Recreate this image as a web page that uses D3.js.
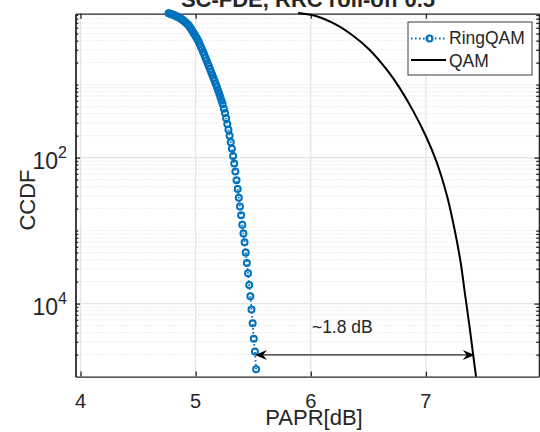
<!DOCTYPE html>
<html>
<head>
<meta charset="utf-8">
<script src="https://cdn.jsdelivr.net/npm/d3@7"></script>
<style>
  body { margin: 0; background: #fff; }
  svg { display: block; }
  text { font-family: "Liberation Sans", Arial, Helvetica, sans-serif; fill: #262626; }
</style>
</head>
<body>
<div id="chart"></div>
<script>
// PAPR thresholds (dB) and CCDF values
var ringX = [4.765, 4.775, 4.785, 4.795, 4.805, 4.815, 4.825, 4.835, 4.845, 4.855,
             4.865, 4.875, 4.885, 4.895, 4.905, 4.915, 4.925, 4.935, 4.945, 4.955,
             4.965, 4.975, 4.985, 4.995, 5.005, 5.015, 5.025, 5.035, 5.045, 5.055,
             5.065, 5.075, 5.085, 5.095, 5.105, 5.115, 5.125, 5.135, 5.145, 5.155,
             5.165, 5.175, 5.185, 5.195, 5.205, 5.215, 5.225, 5.235, 5.245, 5.255,
             5.265, 5.275, 5.285, 5.295, 5.305, 5.315, 5.325, 5.335, 5.345, 5.355,
             5.365, 5.375, 5.385, 5.395, 5.405, 5.415, 5.425, 5.435, 5.445, 5.455,
             5.465, 5.475, 5.485, 5.495, 5.505, 5.515, 5.525];
var ringY = [0.951, 0.940, 0.929, 0.916, 0.904, 0.889, 0.875, 0.859, 0.843, 0.828,
             0.811, 0.792, 0.773, 0.752, 0.730, 0.706, 0.682, 0.658, 0.632, 0.596,
             0.562, 0.531, 0.501, 0.473, 0.445, 0.417, 0.389, 0.359, 0.331, 0.305,
             0.280, 0.257, 0.234, 0.214, 0.195, 0.178, 0.162, 0.148, 0.135, 0.123,
             0.112, 0.101, 0.0918, 0.0832, 0.0750, 0.0676, 0.0603, 0.0537, 0.0468, 0.0407,
             0.0347, 0.0288, 0.0240, 0.0200, 0.0162, 0.0132, 0.0105, 0.00832, 0.00646, 0.00490,
             0.00372, 0.00282, 0.00214, 0.00162, 0.00120, 9.1e-4, 6.9e-4, 5.0e-4, 3.6e-4, 2.6e-4,
             1.8e-4, 1.26e-4, 8.3e-5, 5.4e-5, 3.3e-5, 2.2e-5, 1.26e-5];

var qamX = [5.89, 6.05, 6.22, 6.37, 6.51, 6.66, 6.77, 6.89, 7.00, 7.09, 7.18, 7.24, 7.30, 7.34, 7.38, 7.41, 7.435];
var qamY = [0.957, 0.863, 0.662, 0.463, 0.301, 0.160, 0.0908, 0.0433, 0.0196, 0.00893, 0.00312, 0.00121, 3.8e-4, 1.33e-4, 4.7e-5, 2.0e-5, 1.0e-5];

var seriesNames = ['RingQAM', 'QAM'];

var xTicks = [4, 5, 6, 7];
var xTickLabels = ['4', '5', '6', '7'];
var yTicks = [1e-4, 1e-2];
var yTickExp = ['4', '2'];

var gapArrowX = [5.515, 7.424];
var gapArrowY = 1.98e-5;
var gapLabel = '~1.8 dB';
var gapLabelPos = [6.01, 4.0e-5];

var titleText = 'SC-FDE, RRC roll-off 0.5';

var w = 540, h = 432;
var pLeft = 75.5, pRight = 539, pTop = 13.7, pBottom = 376.6;
var axisColor = '#262626', blue = '#0072BD';

var x = d3.scaleLinear().domain([3.9566, 7.982]).range([pLeft, pRight]);
var y = d3.scaleLog().domain([1e-5, 0.936]).range([pBottom, pTop]);

var svg = d3.select('#chart').append('svg')
    .attr('width', w)
    .attr('height', h);

// minor y positions: 1..9 x each decade, minus the labelled ones
var yMinor = [];
for (var k = -5; k <= 0; k++) {
    for (var m = 1; m <= 9; m++) {
        var v = m * Math.pow(10, k);
        var isMajor = m === 1 && (k === -2 || k === -4);
        if (v > 1.0001e-5 && v < 0.936 && !isMajor) yMinor.push(v);
    }
}

var grid = svg.append('g');
grid.selectAll('.minor')
    .data(yMinor)
    .enter().append('line')
    .attr('x1', pLeft).attr('x2', pRight)
    .attr('y1', function(d){ return y(d); })
    .attr('y2', function(d){ return y(d); })
    .style('stroke', '#d4d4d4')
    .style('stroke-width', 0.8)
    .style('stroke-dasharray', '1,2');
grid.selectAll('.majory')
    .data(yTicks)
    .enter().append('line')
    .attr('x1', pLeft).attr('x2', pRight)
    .attr('y1', function(d){ return y(d); })
    .attr('y2', function(d){ return y(d); })
    .style('stroke', '#e3e3e3')
    .style('stroke-width', 1.2);
grid.selectAll('.majorx')
    .data(xTicks)
    .enter().append('line')
    .attr('y1', pTop).attr('y2', pBottom)
    .attr('x1', function(d){ return x(d); })
    .attr('x2', function(d){ return x(d); })
    .style('stroke', '#e3e3e3')
    .style('stroke-width', 1.2);

// axes with inward ticks on all four sides
function styleAxis(g) {
    g.selectAll('path, line').style('stroke', axisColor).style('stroke-width', 1.3);
    g.selectAll('text').remove();
}
svg.append('g').attr('transform', 'translate(0,' + pBottom + ')')
    .call(d3.axisBottom(x).tickValues(xTicks).tickSizeInner(-5).tickSizeOuter(0)).call(styleAxis);
svg.append('g').attr('transform', 'translate(0,' + pTop + ')')
    .call(d3.axisTop(x).tickValues(xTicks).tickSizeInner(-5).tickSizeOuter(0)).call(styleAxis);
[[d3.axisLeft, pLeft], [d3.axisRight, pRight]].forEach(function(a) {
    svg.append('g').attr('transform', 'translate(' + a[1] + ',0)')
        .call(a[0](y).tickValues(yTicks).tickSizeInner(-4.5).tickSizeOuter(0)).call(styleAxis);
    svg.append('g').attr('transform', 'translate(' + a[1] + ',0)')
        .call(a[0](y).tickValues(yMinor).tickSizeInner(-2.8).tickSizeOuter(0)).call(styleAxis);
});

// tick labels
svg.selectAll('.xlab')
    .data(xTicks)
    .enter().append('text')
    .attr('x', function(d){ return x(d); })
    .attr('y', 408)
    .attr('text-anchor', 'middle')
    .style('font-size', '20px')
    .text(function(d, i){ return xTickLabels[i]; });

var ylab = svg.selectAll('.ylab')
    .data(yTicks)
    .enter().append('text')
    .attr('x', pLeft - 8.5)
    .attr('y', function(d){ return y(d) + 11.8; })
    .attr('text-anchor', 'end');
ylab.append('tspan').style('font-size', '23px').text('10');
ylab.append('tspan').attr('dy', -11.5).style('font-size', '16px')
    .text(function(d, i){ return yTickExp[i]; });

// axis labels and title
svg.append('text')
    .attr('x', 314).attr('y', 425)
    .attr('text-anchor', 'middle')
    .style('font-size', '22px')
    .text('PAPR[dB]');
svg.append('text')
    .attr('transform', 'translate(35,200) rotate(-90)')
    .attr('text-anchor', 'middle')
    .style('font-size', '22px')
    .text('CCDF');
svg.append('text')
    .attr('x', 308).attr('y', 7)
    .attr('text-anchor', 'middle')
    .style('font-size', '22px')
    .style('font-weight', 'bold')
    .text(titleText);

// series
var ringData = ringX.map(function(d, i){ return [d, ringY[i]]; });
var qamData = qamX.map(function(d, i){ return [d, qamY[i]]; });

var line = d3.line()
    .x(function(d){ return x(d[0]); })
    .y(function(d){ return y(d[1]); });

svg.append('path')
    .datum(qamData)
    .attr('d', line.curve(d3.curveCatmullRom.alpha(0.5)))
    .style('fill', 'none')
    .style('stroke', '#000')
    .style('stroke-width', 2);

svg.append('path')
    .datum(ringData)
    .attr('d', line.curve(d3.curveLinear))
    .style('fill', 'none')
    .style('stroke', blue)
    .style('stroke-width', 1.8)
    .style('stroke-dasharray', '1.6,2.4');

svg.selectAll('.mk')
    .data(ringData)
    .enter().append('circle')
    .attr('cx', function(d){ return x(d[0]); })
    .attr('cy', function(d){ return y(d[1]); })
    .attr('r', 3)
    .style('fill', 'none')
    .style('stroke', blue)
    .style('stroke-width', 2);

// double arrow showing the PAPR gap
var ax1 = x(gapArrowX[0]), ax2 = x(gapArrowX[1]), ay = y(gapArrowY);
svg.append('line')
    .attr('x1', ax1 + 4).attr('x2', ax2 - 4)
    .attr('y1', ay).attr('y2', ay)
    .style('stroke', '#222')
    .style('stroke-width', 1.2);
function head(tx, dir) {
    return 'M' + tx + ',' + ay +
        'L' + (tx - dir * 12) + ',' + (ay - 5) +
        'L' + (tx - dir * 8) + ',' + ay +
        'L' + (tx - dir * 12) + ',' + (ay + 5) + 'Z';
}
svg.append('path').attr('d', head(ax1, -1)).style('fill', '#000');
svg.append('path').attr('d', head(ax2, 1)).style('fill', '#000');
svg.append('text')
    .attr('x', x(gapLabelPos[0])).attr('y', y(gapLabelPos[1]))
    .style('font-size', '17.5px')
    .text(gapLabel);

// legend
var lg = svg.append('g');
lg.append('rect')
    .attr('x', 408).attr('y', 22)
    .attr('width', 124).attr('height', 53)
    .style('fill', '#fff')
    .style('stroke', axisColor)
    .style('stroke-width', 0.9);
lg.append('line')
    .attr('x1', 411).attr('x2', 447).attr('y1', 38.5).attr('y2', 38.5)
    .style('stroke', blue).style('stroke-width', 1.8).style('stroke-dasharray', '1.6,2.4');
lg.append('circle')
    .attr('cx', 429.5).attr('cy', 38.5).attr('r', 3)
    .style('fill', 'none').style('stroke', blue).style('stroke-width', 2);
lg.append('line')
    .attr('x1', 411).attr('x2', 446).attr('y1', 60).attr('y2', 60)
    .style('stroke', '#000').style('stroke-width', 2);
lg.selectAll('.lt')
    .data(seriesNames)
    .enter().append('text')
    .attr('x', 449)
    .attr('y', function(d, i){ return 43.5 + i * 23; })
    .style('font-size', '17.5px')
    .text(function(d){ return d; });
</script>
</body>
</html>
